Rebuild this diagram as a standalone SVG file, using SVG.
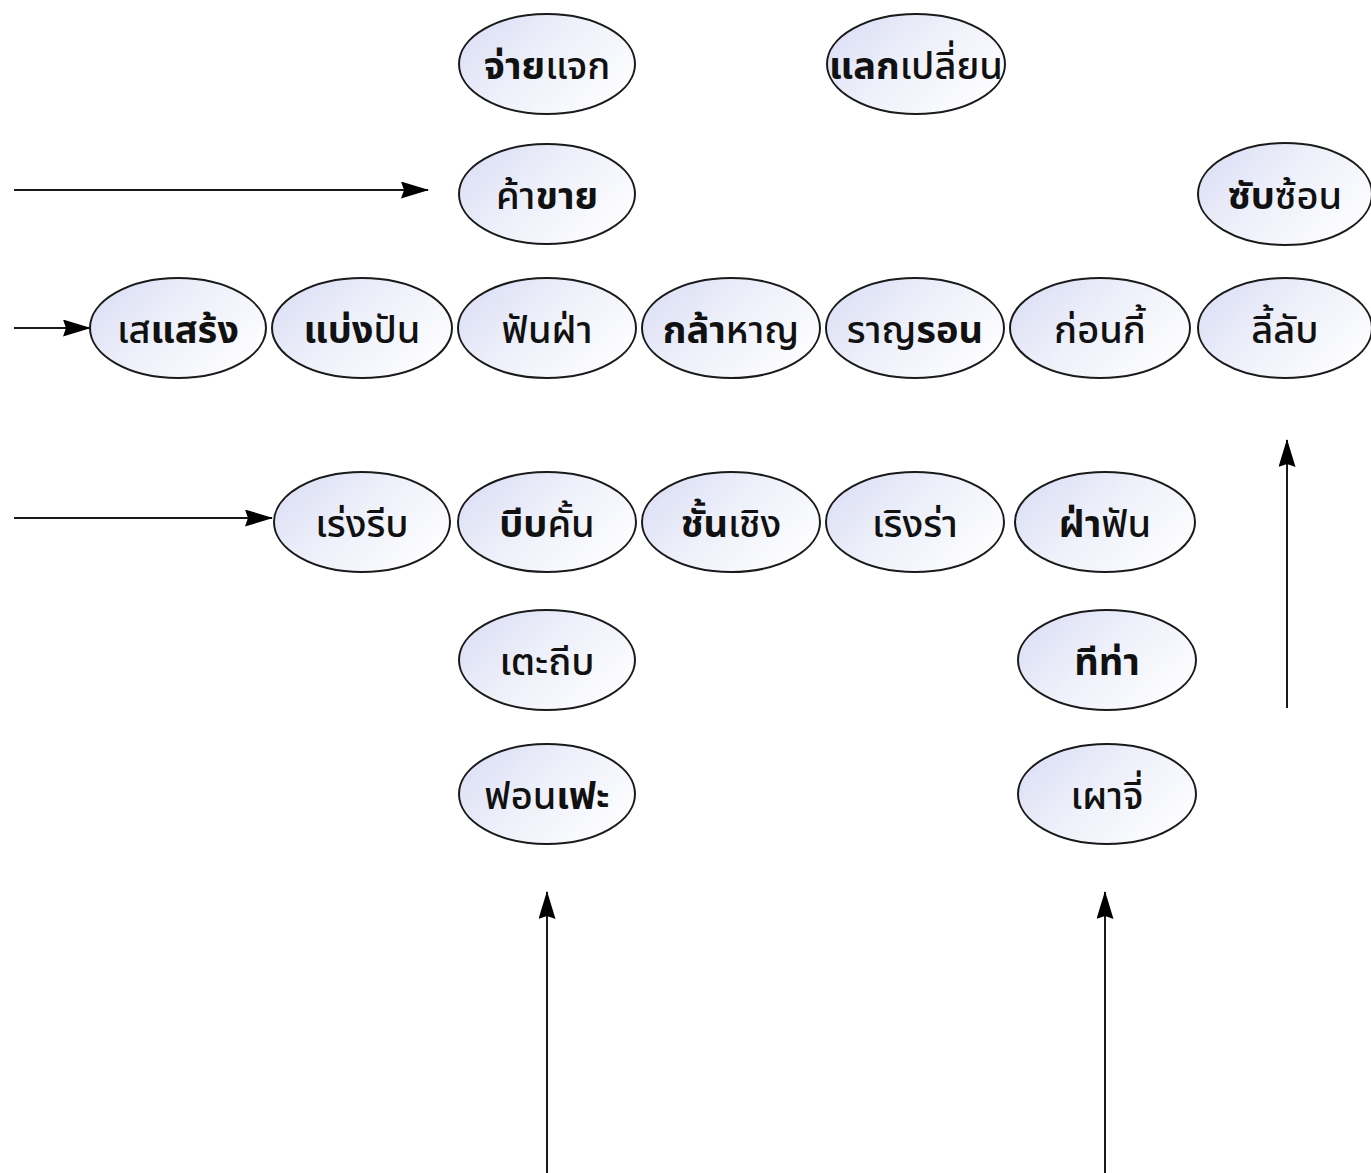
<svg xmlns="http://www.w3.org/2000/svg" width="1371" height="1173" viewBox="0 0 1371 1173">
<defs>
<linearGradient id="g" x1="0" y1="0.2" x2="1" y2="0.8">
<stop offset="0" stop-color="#dcdff5"/>
<stop offset="0.45" stop-color="#eef0fa"/>
<stop offset="1" stop-color="#ffffff"/>
</linearGradient>
<marker id="ah" markerWidth="28" markerHeight="17" refX="27" refY="8.5" orient="auto" markerUnits="userSpaceOnUse">
<path d="M0,0 L28,8.5 L0,17 L3,8.5 Z" fill="#000"/>
</marker>
<style>
ellipse{fill:url(#g);stroke:#1a1a1a;stroke-width:2}
text{font-family:"Noto Sans Thai","Noto Sans","DejaVu Sans",sans-serif;font-size:38px;font-weight:500;text-anchor:middle;fill:#111}
.b{font-weight:bold}
.c line{stroke:#1a1a1a;stroke-width:2;marker-end:url(#ah)}
</style>
</defs>
<rect width="1371" height="1173" fill="#fff"/>
<g class="c" id="connectors">
<line x1="14" y1="190" x2="428" y2="190"/>
<line x1="14" y1="328" x2="90" y2="328"/>
<line x1="14" y1="518" x2="272" y2="518"/>
<line x1="1287" y1="708" x2="1287" y2="440"/>
<line x1="547" y1="1173" x2="547" y2="892"/>
<line x1="1105" y1="1173" x2="1105" y2="892"/>
</g>
<g id="n1"><ellipse cx="547" cy="64" rx="88" ry="50"/><text x="547" y="79"><tspan class="b">จ่าย</tspan>แจก</text></g>
<g id="n2"><ellipse cx="916" cy="64" rx="89" ry="50"/><text x="916" y="79"><tspan class="b">แลก</tspan>เปลี่ยน</text></g>
<g id="n3"><ellipse cx="547" cy="194" rx="88" ry="50"/><text x="547" y="209">ค้า<tspan class="b">ขาย</tspan></text></g>
<g id="n4"><ellipse cx="1285" cy="194" rx="87" ry="51"/><text x="1285" y="209"><tspan class="b">ซับ</tspan>ซ้อน</text></g>
<g id="n5"><ellipse cx="178" cy="328" rx="88" ry="50"/><text x="178" y="343">เส<tspan class="b">แสร้ง</tspan></text></g>
<g id="n6"><ellipse cx="362" cy="328" rx="90" ry="50"/><text x="362" y="343"><tspan class="b">แบ่ง</tspan>ปัน</text></g>
<g id="n7"><ellipse cx="547" cy="328" rx="89" ry="50"/><text x="547" y="343">ฟันฝ่า</text></g>
<g id="n8"><ellipse cx="731" cy="328" rx="89" ry="50"/><text x="731" y="343"><tspan class="b">กล้า</tspan>หาญ</text></g>
<g id="n9"><ellipse cx="915" cy="328" rx="89" ry="50"/><text x="915" y="343">ราญ<tspan class="b">รอน</tspan></text></g>
<g id="n10"><ellipse cx="1100" cy="328" rx="90" ry="50"/><text x="1100" y="343">ก่อนกี้</text></g>
<g id="n11"><ellipse cx="1285" cy="328" rx="87" ry="50"/><text x="1285" y="343">ลี้ลับ</text></g>
<g id="n12"><ellipse cx="362" cy="522" rx="88" ry="50"/><text x="362" y="537">เร่งรีบ</text></g>
<g id="n13"><ellipse cx="547" cy="522" rx="89" ry="50"/><text x="547" y="537"><tspan class="b">บีบ</tspan>คั้น</text></g>
<g id="n14"><ellipse cx="731" cy="522" rx="89" ry="50"/><text x="731" y="537"><tspan class="b">ชั้น</tspan>เชิง</text></g>
<g id="n15"><ellipse cx="915" cy="522" rx="89" ry="50"/><text x="915" y="537">เริงร่า</text></g>
<g id="n16"><ellipse cx="1105" cy="522" rx="90" ry="50"/><text x="1105" y="537"><tspan class="b">ฝ่า</tspan>ฟัน</text></g>
<g id="n17"><ellipse cx="547" cy="660" rx="88" ry="50"/><text x="547" y="675">เตะถีบ</text></g>
<g id="n18"><ellipse cx="1107" cy="660" rx="89" ry="50"/><text x="1107" y="675" class="b">ทีท่า</text></g>
<g id="n19"><ellipse cx="547" cy="794" rx="88" ry="50"/><text x="547" y="809">ฟอน<tspan class="b">เฟะ</tspan></text></g>
<g id="n20"><ellipse cx="1107" cy="794" rx="89" ry="50"/><text x="1107" y="809">เผาจี่</text></g>
</svg>
